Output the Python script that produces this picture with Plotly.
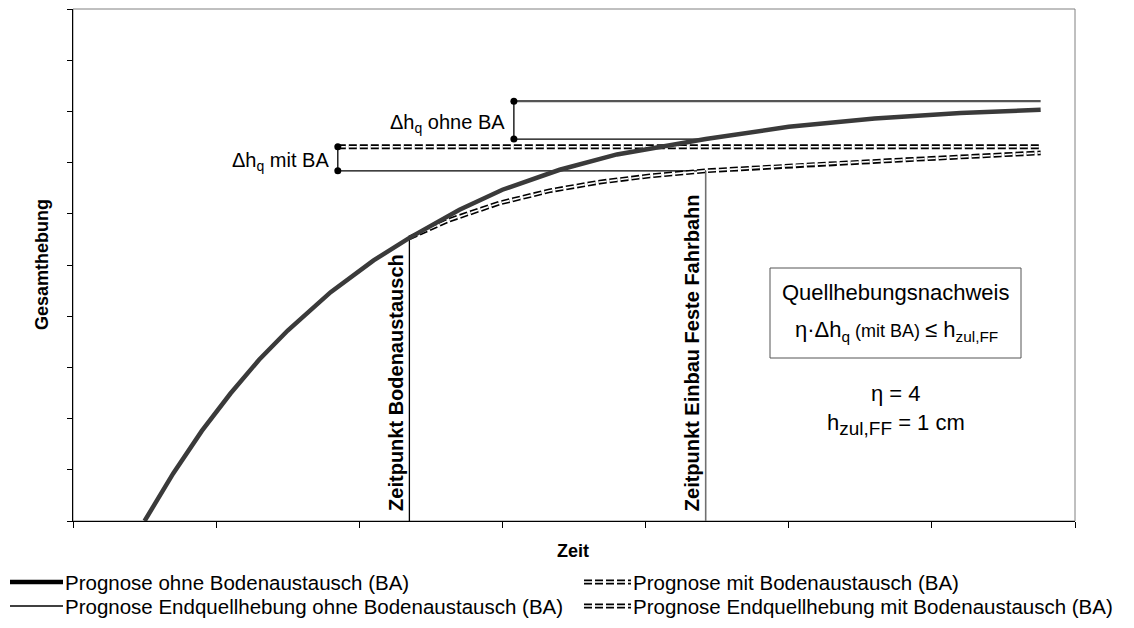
import plotly.graph_objects as go

# ---------------- data (axis units: Zeit 0..7, Gesamthebung 0..10) ----------------
t_ohne = [0.50, 0.70, 0.90, 1.10, 1.30, 1.50, 1.80, 2.10, 2.35, 2.70, 3.00, 3.40, 3.80, 4.42, 5.00, 5.60, 6.20, 6.76]
h_ohne = [0.00, 0.93, 1.76, 2.49, 3.15, 3.72, 4.47, 5.09, 5.53, 6.08, 6.47, 6.86, 7.16, 7.46, 7.70, 7.86, 7.97, 8.03]

t_mit = [2.35, 2.63, 2.98, 3.33, 3.68, 4.03, 4.42, 5.08, 5.78, 6.76]
h_mit = [5.53, 5.88, 6.21, 6.45, 6.62, 6.74, 6.84, 6.95, 7.05, 7.19]

t_BA = 2.35          # Zeitpunkt Bodenaustausch
t_FF = 4.42          # Zeitpunkt Einbau Feste Fahrbahn
t_end = 6.76
x_dh_ohne = 3.08     # Lage der Massklammer ohne BA
x_dh_mit = 1.85      # Lage der Massklammer mit BA

h_end_ohne = 8.20    # Prognose Endquellhebung ohne BA
h_FF_ohne = 7.46     # Hebung ohne BA beim Einbau FF
h_end_mit = 7.31     # Prognose Endquellhebung mit BA
h_FF_mit = 6.84      # Hebung mit BA beim Einbau FF
h_BA = 5.53          # Hebung zum Zeitpunkt Bodenaustausch

x_ticks = [0, 1, 2, 3, 4, 5, 6, 7]
y_ticks = [0, 1, 2, 3, 4, 5, 6, 7, 8, 9, 10]

legend_labels = [
    "Prognose ohne Bodenaustausch (BA)",
    "Prognose mit Bodenaustausch (BA)",
    "Prognose Endquellhebung ohne Bodenaustausch (BA)",
    "Prognose Endquellhebung mit Bodenaustausch (BA)",
]

# ---------------- layout geometry (page pixels of the target) ----------------
OFF = 8                       # default body margin of the html page
W, H = 1134 - OFF, 628 - OFF
L, R, T, B = 73, 1075, 9, 521
FONT = "Liberation Sans, Arial, sans-serif"


def pxp(x):
    return (x - L) / (R - L)


def pyp(y):
    return (B - y) / (B - T)


DARK = "#3a3a3a"
DASH = "8px,3px"

fig = go.Figure()


def line(x, y, color="black", width=1.3, dash="solid", mode="lines", marker=None):
    fig.add_trace(go.Scatter(x=x, y=y, mode=mode, line=dict(color=color, width=width, dash=dash),
                             marker=marker, showlegend=False, hoverinfo="skip", cliponaxis=False))


def double_dash(x, y):
    line(x, y, color="black", width=4.8, dash=DASH)
    line(x, y, color="white", width=1.6, dash=DASH)


# vertical time markers
line([t_BA, t_BA], [0, h_BA], color="black", width=1.3)
line([t_FF, t_FF], [0, h_FF_mit], color="#707070", width=1.6)

# reference lines
line([x_dh_ohne, t_end], [h_end_ohne, h_end_ohne], color="#555555", width=2.2)
line([x_dh_ohne, t_FF], [h_FF_ohne, h_FF_ohne], color="black", width=1.3)
line([x_dh_mit, t_FF], [h_FF_mit, h_FF_mit], color="black", width=1.3)

# mit BA curves (double dashed)
double_dash([x_dh_mit, t_end], [h_end_mit, h_end_mit])
double_dash(t_mit, h_mit)

# main curve
line(t_ohne, h_ohne, color=DARK, width=4.5)

# brackets
mk = dict(symbol="circle", size=7, color="black")
line([x_dh_ohne, x_dh_ohne], [h_end_ohne, h_FF_ohne], color="black", width=1.3, mode="lines+markers", marker=mk)
line([x_dh_mit, x_dh_mit], [h_end_mit, h_FF_mit], color="black", width=1.3, mode="lines+markers", marker=mk)

ann = []
f20 = dict(family=FONT, size=20, color="black")
ann.append(dict(x=x_dh_ohne, y=(h_end_ohne + h_FF_ohne) / 2, xref="x", yref="y", text="Δh<sub>q</sub> ohne BA",
                xanchor="right", yanchor="middle", xshift=-7, yshift=-3, showarrow=False, font=f20))
ann.append(dict(x=x_dh_mit, y=(h_end_mit + h_FF_mit) / 2, xref="x", yref="y", text="Δh<sub>q</sub> mit BA",
                xanchor="right", yanchor="middle", xshift=-7, yshift=-3, showarrow=False, font=f20))
ann.append(dict(x=t_BA, y=0, xref="x", yref="y", text="<b>Zeitpunkt Bodenaustausch</b>", textangle=-90,
                xanchor="right", yanchor="bottom", xshift=-1, yshift=8, showarrow=False, font=f20))
ann.append(dict(x=t_FF, y=0, xref="x", yref="y", text="<b>Zeitpunkt Einbau Feste Fahrbahn</b>", textangle=-90,
                xanchor="right", yanchor="bottom", xshift=-1, yshift=8, showarrow=False, font=f20))

# axis titles
ann.append(dict(x=pxp(42), y=pyp(265), xref="paper", yref="paper", text="<b>Gesamthebung</b>", textangle=-90,
                xanchor="center", yanchor="middle", showarrow=False, font=dict(family=FONT, size=18, color="black")))
ann.append(dict(x=pxp(573), y=pyp(551), xref="paper", yref="paper", text="<b>Zeit</b>",
                xanchor="center", yanchor="middle", showarrow=False, font=dict(family=FONT, size=18, color="black")))

# box text
f22 = dict(family=FONT, size=22, color="black")
cx = pxp(896)
ann.append(dict(x=cx, y=pyp(292), xref="paper", yref="paper", text="Quellhebungsnachweis",
                xanchor="center", yanchor="middle", showarrow=False, font=f22))
ann.append(dict(x=cx, y=pyp(331), xref="paper", yref="paper",
                text="η·Δh<sub>q</sub><span style='font-size:18px'> (mit BA) </span>≤ h<sub>zul,FF</sub>",
                xanchor="center", yanchor="middle", showarrow=False, font=f22))
ann.append(dict(x=cx, y=pyp(393), xref="paper", yref="paper", text="η = 4",
                xanchor="center", yanchor="middle", showarrow=False, font=f22))
ann.append(dict(x=cx, y=pyp(424), xref="paper", yref="paper",
                text="h<sub><span style='font-size:19px'>zul,FF</span></sub> = 1 cm",
                xanchor="center", yanchor="middle", showarrow=False, font=f22))

shapes = []
# plot frame (gray top/right)
shapes.append(dict(type="rect", xref="paper", yref="paper", x0=0, x1=1, y0=0, y1=1,
                   line=dict(color="#808080", width=1), layer="below"))
# formula box
shapes.append(dict(type="rect", xref="paper", yref="paper", x0=pxp(770), x1=pxp(1021), y0=pyp(358), y1=pyp(268),
                   line=dict(color="#555555", width=1)))

# legend (manual)
f_leg = dict(family=FONT, size=20.5, color="black")
rows = [582, 606]
cols = [(10, 63, 63), (584, 631, 631)]
leg = [(0, 0, "thick"), (1, 0, "dd"), (0, 1, "thin"), (1, 1, "dd")]
for i, (c, r, style) in enumerate(leg):
    x0, x1, xt = cols[c]
    yy = pyp(rows[r])
    if style == "thick":
        shapes.append(dict(type="line", xref="paper", yref="paper", x0=pxp(x0), x1=pxp(x1), y0=yy, y1=yy,
                           line=dict(color="black", width=4.5)))
    elif style == "thin":
        shapes.append(dict(type="line", xref="paper", yref="paper", x0=pxp(x0), x1=pxp(x1), y0=yy, y1=yy,
                           line=dict(color="black", width=1.5)))
    else:
        shapes.append(dict(type="line", xref="paper", yref="paper", x0=pxp(x0), x1=pxp(x1), y0=yy, y1=yy,
                           line=dict(color="black", width=4.8, dash=DASH)))
        shapes.append(dict(type="line", xref="paper", yref="paper", x0=pxp(x0), x1=pxp(x1), y0=yy, y1=yy,
                           line=dict(color="white", width=1.6, dash=DASH)))
    ann.append(dict(x=pxp(xt), y=yy, xref="paper", yref="paper", text=legend_labels[i], xanchor="left",
                    yanchor="middle", showarrow=False, font=f_leg))

fig.update_layout(
    width=W, height=H,
    margin=dict(l=L - OFF, r=W - (R - OFF), t=T - OFF, b=H - (B - OFF), pad=0),
    paper_bgcolor="white", plot_bgcolor="white",
    showlegend=False,
    xaxis=dict(range=[0, 7], tickvals=x_ticks, showticklabels=False, ticks="outside", ticklen=6,
               tickcolor="black", showline=True, linecolor="black", linewidth=1, showgrid=False,
               zeroline=False, fixedrange=True),
    yaxis=dict(range=[0, 10], tickvals=y_ticks, showticklabels=False, ticks="outside", ticklen=5,
               tickcolor="black", showline=True, linecolor="black", linewidth=1, showgrid=False,
               zeroline=False, fixedrange=True),
    annotations=ann, shapes=shapes,
    font=dict(family=FONT),
)

fig.write_html("out.html")
